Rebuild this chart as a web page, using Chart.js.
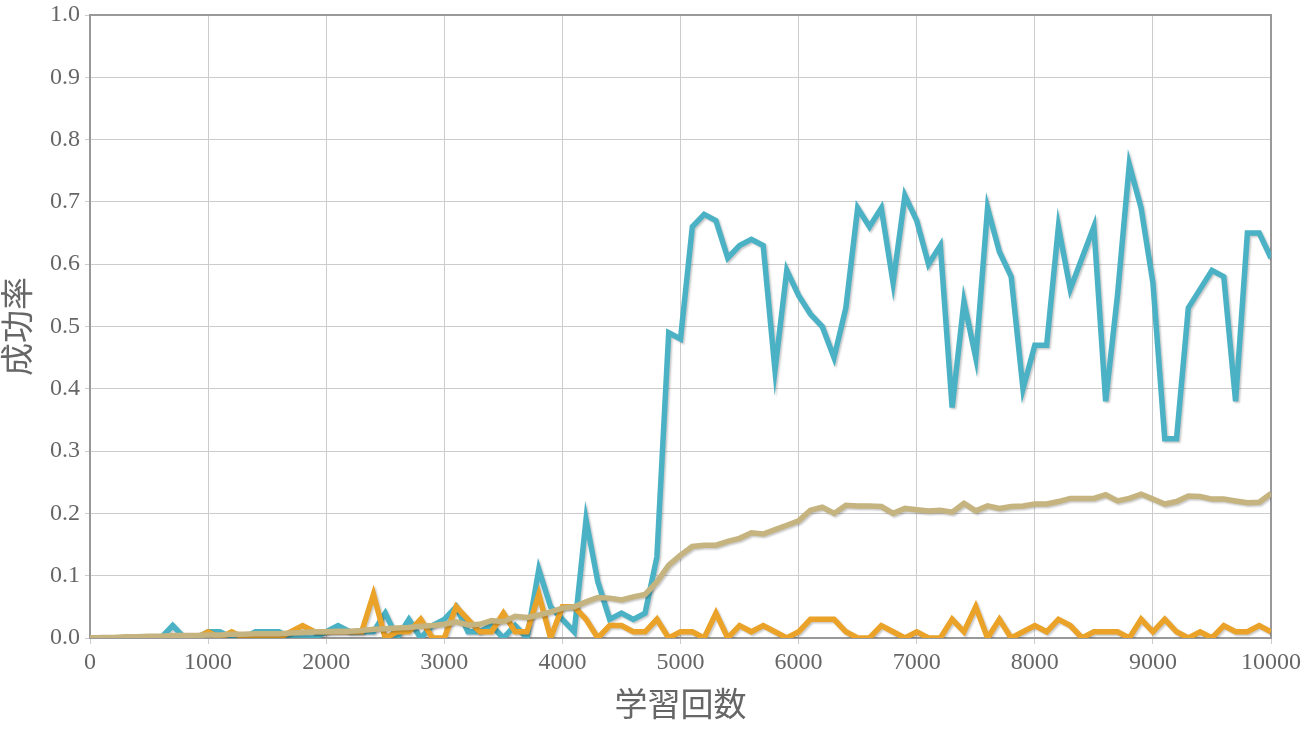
<!DOCTYPE html>
<html>
<head>
<meta charset="utf-8">
<script src="https://cdn.jsdelivr.net/npm/chart.js@4.4.1/dist/chart.umd.min.js"></script>
<style>
html,body{margin:0;padding:0;background:#fff}
#wrap{width:1303px;height:735px;position:relative}
</style>
</head>
<body>
<div id="wrap"><canvas id="chart"></canvas></div>
<script>

const steps = [0,100,200,300,400,500,600,700,800,900,
1000,1100,1200,1300,1400,1500,1600,1700,1800,1900,
2000,2100,2200,2300,2400,2500,2600,2700,2800,2900,
3000,3100,3200,3300,3400,3500,3600,3700,3800,3900,
4000,4100,4200,4300,4400,4500,4600,4700,4800,4900,
5000,5100,5200,5300,5400,5500,5600,5700,5800,5900,
6000,6100,6200,6300,6400,6500,6600,6700,6800,6900,
7000,7100,7200,7300,7400,7500,7600,7700,7800,7900,
8000,8100,8200,8300,8400,8500,8600,8700,8800,8900,
9000,9100,9200,9300,9400,9500,9600,9700,9800,9900,10000]

const tealRate = [0,0,0,0,0,0,0,0.02,0,0,
0.01,0.01,0,0,0.01,0.01,0.01,0,0,0,
0.01,0.02,0.01,0.01,0.01,0.04,0,0.03,0,0.02,
0.03,0.05,0.01,0.01,0.02,0,0.02,0,0.11,0.05,
0.03,0.01,0.19,0.09,0.03,0.04,0.03,0.04,0.13,0.49,
0.48,0.66,0.68,0.67,0.61,0.63,0.64,0.63,0.43,0.59,
0.55,0.52,0.50,0.45,0.53,0.69,0.66,0.69,0.57,0.71,
0.67,0.60,0.63,0.37,0.54,0.45,0.69,0.62,0.58,0.40,
0.47,0.47,0.66,0.56,0.61,0.66,0.38,0.55,0.76,0.69,
0.57,0.32,0.32,0.53,0.56,0.59,0.58,0.38,0.65,0.65,0.61]

const orangeRate = [0,0,0,0,0,0,0,0,0,0,
0.01,0,0.01,0,0,0,0,0.01,0.02,0.01,
0.01,0.01,0.01,0.01,0.07,0,0.01,0.01,0.03,0,
0,0.05,0.03,0.01,0.01,0.04,0.01,0.01,0.07,0,
0.05,0.05,0.03,0,0.02,0.02,0.01,0.01,0.03,0,
0.01,0.01,0,0.04,0,0.02,0.01,0.02,0.01,0,
0.01,0.03,0.03,0.03,0.01,0,0,0.02,0.01,0,
0.01,0,0,0.03,0.01,0.05,0,0.03,0,0.01,
0.02,0.01,0.03,0.02,0,0.01,0.01,0.01,0,0.03,
0.01,0.03,0.01,0,0.01,0,0.02,0.01,0.01,0.02,0.01]

const tanRate = [0,0.001,0.001,0.002,0.002,0.003,0.003,0.004,0.004,0.004,
0.005,0.005,0.006,0.006,0.007,0.007,0.007,0.008,0.009,0.01,
0.01,0.011,0.011,0.012,0.014,0.015,0.016,0.017,0.019,0.02,
0.022,0.026,0.021,0.022,0.028,0.026,0.035,0.033,0.037,0.042,
0.048,0.05,0.058,0.065,0.064,0.061,0.066,0.07,0.09,0.117,
0.133,0.147,0.149,0.149,0.155,0.16,0.169,0.167,0.174,0.181,
0.188,0.205,0.21,0.2,0.213,0.212,0.212,0.211,0.2,0.208,
0.206,0.204,0.205,0.202,0.216,0.204,0.212,0.208,0.211,0.212,
0.215,0.215,0.219,0.224,0.224,0.224,0.23,0.22,0.224,0.231,
0.223,0.215,0.219,0.228,0.227,0.223,0.223,0.22,0.217,0.218,0.232]

const xTitle = "学習回数"
const yTitle = "成功率"

const tickFont = {family:"'Liberation Serif', 'DejaVu Serif', serif", size:24}
const titleFont = {family:"'Noto Sans CJK JP', sans-serif", size:33, lineHeight:1}

function points(values){
return values.map((v,i) => ({x:steps[i], y:v}))
}

function line(values,color,order){
return {
data:points(values),
borderColor:color,
borderWidth:5.5,
pointRadius:0,
tension:0,
fill:false,
clip:0,
order:order
}
}

// grey drop shadow under each series, like the old jqPlot look
const shadow = {
id:"shadow",
beforeDatasetDraw(chart){
const ctx = chart.ctx
ctx.save()
ctx.shadowColor = "rgba(0,0,0,0.22)"
ctx.shadowOffsetX = 1.5
ctx.shadowOffsetY = 1.5
ctx.shadowBlur = 2
},
afterDatasetDraw(chart){
chart.ctx.restore()
}
}

const frame = {
id:"frame",
beforeDatasetsDraw(chart){
const a = chart.chartArea
const ctx = chart.ctx
ctx.save()
ctx.strokeStyle = "#999999"
ctx.lineWidth = 2
ctx.strokeRect(a.left,a.top,a.right-a.left,a.bottom-a.top)
ctx.restore()
}
}

new Chart(document.getElementById("chart"),{
type:"line",
data:{
datasets:[
line(tealRate,"#4bb2c5",3),
line(orangeRate,"#eaa228",2),
line(tanRate,"#c5b47f",1)
]
},
plugins:[shadow,frame],
options:{
responsive:true,
maintainAspectRatio:false,
animation:false,
layout:{padding:{left:0,right:32,top:15,bottom:0}},
plugins:{legend:{display:false},tooltip:{enabled:false}},
scales:{
x:{
type:"linear",
min:0,
max:10000,
afterFit(scale){
scale.height = 97
scale.paddingLeft = 0
scale.paddingRight = 0
},
ticks:{stepSize:1000,color:"#666666",font:tickFont,padding:4,maxRotation:0,
callback:v => String(v)},
grid:{color:"#cccccc",tickLength:6,tickColor:"#cccccc"},
border:{color:"#999999",width:2},
title:{display:true,text:xTitle,color:"#666666",font:titleFont,padding:{top:0,bottom:15}}
},
y:{
type:"linear",
min:0,
max:1,
afterFit(scale){
scale.width = 90
scale.paddingTop = 0
scale.paddingBottom = 0
},
ticks:{stepSize:0.1,color:"#666666",font:tickFont,padding:5,
callback:v => Number(v).toFixed(1)},
grid:{color:"#cccccc",tickLength:5,tickColor:"#cccccc"},
border:{color:"#999999",width:2},
title:{display:true,text:yTitle,color:"#666666",font:titleFont,padding:{top:0,bottom:0}}
}
}
}
})

</script>
</body>
</html>
